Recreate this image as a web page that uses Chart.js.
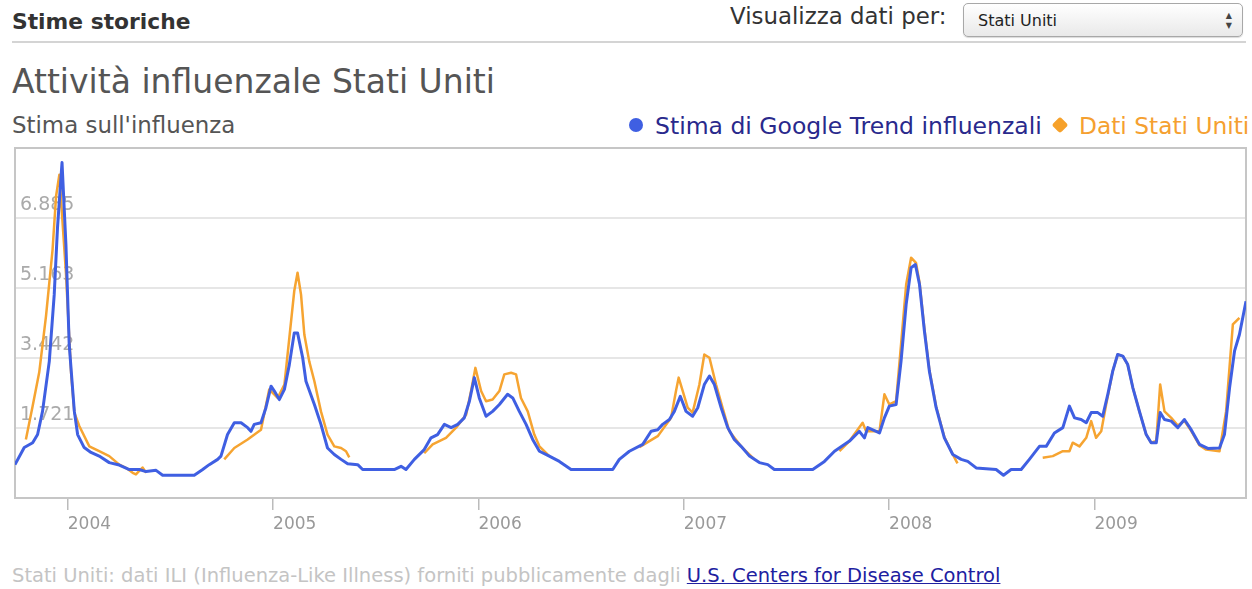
<!DOCTYPE html>
<html>
<head>
<meta charset="utf-8">
<script src="https://cdn.jsdelivr.net/npm/chart.js@4.4.1/dist/chart.umd.min.js"></script>
<style>
    body {
        margin: 0;
        width: 1252px;
        height: 589px;
        background: #fff;
        font-family: "DejaVu Sans", sans-serif;
        position: relative;
        overflow: hidden;
    }
    .abs { position: absolute; white-space: nowrap; line-height: 1.2; }
    #head { left: 12px; top: 9px; font-size: 21.8px; font-weight: bold; color: #333; }
    #rule { left: 12px; top: 41px; width: 1234px; height: 2px; background: #d4d4d4; }
    #viz { left: 730px; top: 3px; font-size: 22.9px; color: #333; }
    #sel {
        left: 963px; top: 3px; width: 278px; height: 32px;
        border: 1px solid #a8a8a8; border-radius: 5px;
        background: linear-gradient(#ffffff, #e9e9e9);
        box-shadow: 0 1px 1px rgba(0,0,0,0.15);
    }
    #sel span { position: absolute; left: 14px; top: 7px; font-size: 16px; color: #222; }
    #sel i { position: absolute; right: 10px; font-style: normal; font-size: 8px; color: #444; }
    #title { left: 12px; top: 62px; font-size: 33px; color: #555; }
    #sub { left: 12px; top: 112px; font-size: 22.9px; color: #555; }
    #dot { left: 629px; top: 118px; width: 14px; height: 14px; border-radius: 50%; background: #3f5fe2; }
    #lg1 { left: 655px; top: 112px; font-size: 23.5px; color: #29298c; }
    #dia { left: 1054px; top: 119px; width: 12px; height: 12px; border-radius: 3px; background: #f6a12a; transform: rotate(45deg); }
    #lg2 { left: 1079px; top: 112px; font-size: 23.3px; color: #f5a030; }
    #foot { left: 12px; top: 564px; font-size: 19.5px; color: #c4c4c4; }
    #foot a { color: #2020a0; text-decoration: underline; }
    #flu { position: absolute; left: 0; top: 0; z-index: 1; pointer-events: none; }
</style>
</head>
<body>
<div class="abs" id="head">Stime storiche</div>
<div class="abs" id="viz">Visualizza dati per:</div>
<div class="abs" id="sel"><span>Stati Uniti</span><i style="top:7px">▲</i><i style="top:17px">▼</i></div>
<div class="abs" id="rule"></div>
<div class="abs" id="title">Attività influenzale Stati Uniti</div>
<div class="abs" id="sub">Stima sull'influenza</div>
<div class="abs" id="dot"></div>
<div class="abs" id="lg1">Stima di Google Trend influenzali</div>
<div class="abs" id="dia"></div>
<div class="abs" id="lg2">Dati Stati Uniti</div>
<div class="abs" id="foot">Stati Uniti: dati ILI (Influenza-Like Illness) forniti pubblicamente dagli <a>U.S. Centers for Disease Control</a></div>
<canvas id="flu" width="1252" height="589"></canvas>

<script>
// x values are decimal years (weekly estimates)
const googleX = [2003.743, 2003.788, 2003.829, 2003.853, 2003.877, 2003.910, 2003.934, 2003.950, 2003.972, 2003.991,
    2004.007, 2004.032, 2004.048, 2004.080, 2004.113, 2004.153, 2004.202, 2004.251, 2004.300, 2004.348,
    2004.381, 2004.430, 2004.462, 2004.616, 2004.657, 2004.689, 2004.730, 2004.746, 2004.778, 2004.811,
    2004.844, 2004.876, 2004.892, 2004.908, 2004.941, 2004.965, 2004.990, 2005.006, 2005.030, 2005.055,
    2005.079, 2005.103, 2005.119, 2005.144, 2005.160, 2005.201, 2005.233, 2005.265, 2005.298, 2005.331,
    2005.363, 2005.412, 2005.436, 2005.590, 2005.623, 2005.647, 2005.688, 2005.736, 2005.769, 2005.801,
    2005.834, 2005.867, 2005.899, 2005.931, 2005.956, 2005.980, 2006.004, 2006.037, 2006.069, 2006.102,
    2006.142, 2006.167, 2006.199, 2006.232, 2006.264, 2006.297, 2006.345, 2006.394, 2006.451, 2006.654,
    2006.686, 2006.735, 2006.800, 2006.841, 2006.873, 2006.897, 2006.930, 2006.954, 2006.983, 2007.011,
    2007.043, 2007.068, 2007.100, 2007.125, 2007.149, 2007.182, 2007.214, 2007.246, 2007.279, 2007.320,
    2007.368, 2007.409, 2007.441, 2007.628, 2007.685, 2007.734, 2007.807, 2007.855, 2007.880, 2007.896,
    2007.937, 2007.953, 2007.977, 2008.001, 2008.034, 2008.058, 2008.083, 2008.107, 2008.128, 2008.148,
    2008.172, 2008.196, 2008.229, 2008.269, 2008.310, 2008.351, 2008.383, 2008.424, 2008.521, 2008.557,
    2008.594, 2008.643, 2008.683, 2008.732, 2008.765, 2008.805, 2008.846, 2008.878, 2008.903, 2008.935,
    2008.960, 2008.984, 2009.016, 2009.040, 2009.065, 2009.089, 2009.113, 2009.138, 2009.162, 2009.187,
    2009.219, 2009.252, 2009.276, 2009.301, 2009.320, 2009.341, 2009.374, 2009.406, 2009.438, 2009.471,
    2009.511, 2009.552, 2009.609, 2009.633, 2009.658, 2009.682, 2009.706, 2009.738];
const googleY = [0.82, 1.24, 1.36, 1.56, 2.13, 3.36, 5.0, 6.65, 8.25, 6.23,
    3.77, 2.13, 1.56, 1.24, 1.12, 1.03, 0.87, 0.81, 0.70, 0.70,
    0.65, 0.68, 0.56, 0.56, 0.70, 0.82, 0.95, 1.03, 1.56, 1.85,
    1.85, 1.73, 1.64, 1.81, 1.85, 2.22, 2.75, 2.63, 2.42, 2.67,
    3.28, 4.06, 4.06, 3.45, 2.87, 2.30, 1.81, 1.23, 1.07, 0.95,
    0.84, 0.82, 0.70, 0.70, 0.78, 0.70, 0.95, 1.19, 1.48, 1.56,
    1.81, 1.73, 1.81, 1.97, 2.38, 2.96, 2.46, 2.01, 2.13, 2.30,
    2.55, 2.46, 2.13, 1.81, 1.44, 1.15, 1.03, 0.90, 0.70, 0.70,
    0.95, 1.15, 1.32, 1.64, 1.68, 1.81, 1.93, 2.13, 2.50, 2.13,
    2.01, 2.22, 2.79, 3.00, 2.79, 2.22, 1.73, 1.44, 1.27, 1.03,
    0.87, 0.82, 0.70, 0.70, 0.90, 1.15, 1.40, 1.64, 1.48, 1.73,
    1.64, 1.60, 1.97, 2.26, 2.30, 3.36, 4.76, 5.66, 5.74, 5.25,
    4.10, 3.12, 2.22, 1.48, 1.07, 0.95, 0.90, 0.74, 0.70, 0.56,
    0.70, 0.70, 0.95, 1.27, 1.27, 1.60, 1.73, 2.26, 1.97, 1.93,
    1.85, 2.10, 2.10, 2.01, 2.55, 3.12, 3.53, 3.49, 3.28, 2.71,
    2.13, 1.56, 1.36, 1.36, 2.10, 1.93, 1.89, 1.73, 1.93, 1.68,
    1.32, 1.22, 1.23, 1.56, 2.71, 3.61, 4.02, 4.84];

// CDC ILI data, null = no report during the summer
const cdcX = [2003.796, 2003.829, 2003.861, 2003.894, 2003.926, 2003.943, 2003.959, 2003.991, 2004.016, 2004.032,
    2004.056, 2004.105, 2004.153, 2004.202, 2004.251, 2004.290, 2004.316, 2004.332, 2004.364, 2004.382, 2004.5,
    2004.762, 2004.811, 2004.876, 2004.941, 2004.981, 2005.022, 2005.055, 2005.079, 2005.103, 2005.119,
    2005.136, 2005.152, 2005.176, 2005.201, 2005.233, 2005.265, 2005.298, 2005.331, 2005.355, 2005.371, 2005.5,
    2005.736, 2005.777, 2005.842, 2005.891, 2005.940, 2005.964, 2005.985, 2006.013, 2006.037, 2006.069,
    2006.102, 2006.126, 2006.159, 2006.183, 2006.207, 2006.240, 2006.272, 2006.297, 2006.345, 2006.5,
    2006.784, 2006.873, 2006.938, 2006.962, 2006.975, 2006.995, 2007.019, 2007.043, 2007.076, 2007.100,
    2007.125, 2007.157, 2007.189, 2007.222, 2007.279, 2007.344, 2007.5,
    2007.758, 2007.807, 2007.871, 2007.888, 2007.953, 2007.977, 2008.001, 2008.034, 2008.058, 2008.083,
    2008.107, 2008.131, 2008.148, 2008.172, 2008.196, 2008.229, 2008.269, 2008.310, 2008.333, 2008.5,
    2008.748, 2008.797, 2008.846, 2008.878, 2008.894, 2008.927, 2008.960, 2008.984, 2009.008, 2009.033,
    2009.057, 2009.089, 2009.113, 2009.138, 2009.162, 2009.187, 2009.219, 2009.252, 2009.276, 2009.301,
    2009.320, 2009.341, 2009.374, 2009.406, 2009.438, 2009.471, 2009.511, 2009.544, 2009.609, 2009.641,
    2009.674, 2009.706];
const cdcY = [1.44, 2.26, 3.09, 4.47, 6.11, 7.42, 7.95, 5.54, 3.09, 2.10,
    1.77, 1.27, 1.15, 1.03, 0.82, 0.72, 0.62, 0.58, 0.75, 0.62, null,
    0.95, 1.23, 1.44, 1.68, 2.67, 2.46, 2.79, 3.94, 5.09, 5.54,
    5.00, 4.02, 3.36, 2.87, 2.13, 1.56, 1.27, 1.23, 1.15, 1.00, null,
    1.10, 1.32, 1.48, 1.73, 2.05, 2.63, 3.20, 2.63, 2.38, 2.42,
    2.63, 3.04, 3.08, 3.04, 2.46, 2.13, 1.56, 1.27, 1.03, null,
    1.25, 1.52, 1.97, 2.63, 2.96, 2.63, 2.22, 2.10, 2.79, 3.53,
    3.45, 2.79, 2.22, 1.64, 1.27, 0.95, null,
    1.15, 1.40, 1.85, 1.64, 1.64, 2.55, 2.30, 2.38, 3.77, 5.25,
    5.91, 5.78, 5.30, 4.15, 3.15, 2.25, 1.50, 1.07, 0.85, null,
    0.99, 1.03, 1.15, 1.15, 1.36, 1.27, 1.48, 1.89, 1.48, 1.64,
    2.30, 3.12, 3.53, 3.49, 3.28, 2.71, 2.13, 1.56, 1.36, 1.40,
    2.79, 2.13, 1.97, 1.78, 1.90, 1.65, 1.30, 1.19, 1.15, 2.13,
    4.27, 4.43];

const yearTicks = [2004, 2005, 2006, 2007, 2008, 2009];
const yearLabels = ['2004', '2005', '2006', '2007', '2008', '2009'];
const yTicks = [0, 1.72125, 3.4425, 5.16375, 6.885, 8.60625];
const yLabels = ['', '1.721', '3.442', '5.163', '6.885', ''];

const fontFamily = '"DejaVu Sans", sans-serif';

// grey frame round the plot
const plotBox = {
    id: 'plotBox',
    beforeDatasetsDraw(chart) {
        const { ctx, chartArea: a } = chart;
        ctx.save();
        ctx.strokeStyle = '#c6c6c6';
        ctx.lineWidth = 2;
        ctx.strokeRect(a.left, a.top, a.right - a.left, a.bottom - a.top);
        ctx.restore();
    }
};

new Chart(document.getElementById('flu'), {
    type: 'line',
    data: {
        datasets: [
            {
                label: 'Stima di Google Trend influenzali',
                data: googleX.map((x, i) => ({ x: x, y: googleY[i] })),
                borderColor: '#3f5fe2',
                borderWidth: 3,
                pointRadius: 0,
                borderJoinStyle: 'round',
            },
            {
                label: 'Dati Stati Uniti',
                data: cdcX.map((x, i) => ({ x: x, y: cdcY[i] })),
                borderColor: '#f6a431',
                borderWidth: 2.5,
                pointRadius: 0,
                spanGaps: false,
                borderJoinStyle: 'round',
            }
        ]
    },
    options: {
        responsive: false,
        animation: false,
        layout: {
            padding: { left: 15, right: 6, top: 148, bottom: 49 }
        },
        plugins: {
            legend: { display: false },
            tooltip: { enabled: false },
        },
        scales: {
            x: {
                type: 'linear',
                min: 2003.743,
                max: 2009.738,
                afterBuildTicks: s => { s.ticks = yearTicks.map(v => ({ value: v })); },
                afterFit: s => { s.height = 42; },
                ticks: {
                    align: 'start',
                    autoSkip: false,
                    maxRotation: 0,
                    padding: 4,
                    color: '#999',
                    font: { family: fontFamily, size: 17 },
                    callback: v => yearLabels[yearTicks.indexOf(v)],
                },
                grid: {
                    drawOnChartArea: false,
                    tickLength: 12,
                    color: '#bbb',
                    lineWidth: 1.5,
                },
                border: { display: false },
            },
            y: {
                min: 0,
                max: 8.60625,
                afterBuildTicks: s => { s.ticks = yTicks.map(v => ({ value: v })); },
                afterFit: s => { s.width = 0; },
                ticks: {
                    mirror: true,
                    padding: 5,
                    labelOffset: -13,
                    color: '#aaa',
                    font: { family: fontFamily, size: 19 },
                    callback: (v, i) => yLabels[i],
                },
                grid: {
                    color: '#e6e6e6',
                    lineWidth: 2,
                    drawTicks: false,
                },
                border: { display: false },
            }
        }
    },
    plugins: [plotBox]
});
</script>
</body>
</html>
